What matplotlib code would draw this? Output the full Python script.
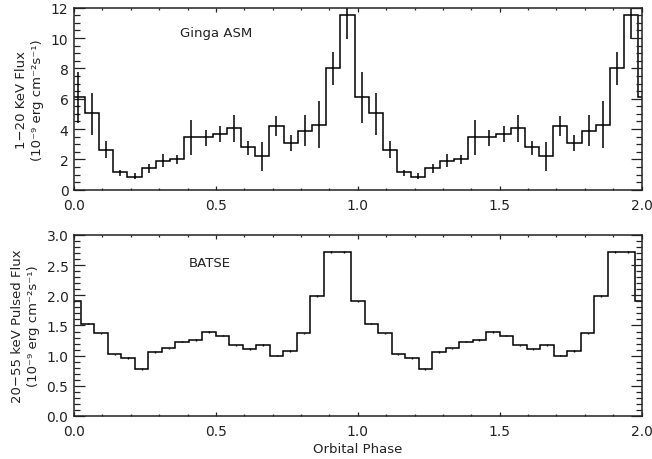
import numpy as np
import matplotlib
matplotlib.use("Agg")
import matplotlib.pyplot as plt
from matplotlib.ticker import MultipleLocator, FormatStrFormatter

# --- Data: folded profiles (one orbital cycle) ---
# Ginga ASM, 1-20 keV flux, 20 phase bins
ginga_flux = [6.13, 5.03, 2.64, 1.14, 0.86, 1.41, 1.91, 2.02, 3.49, 3.45,
              3.67, 4.07, 2.79, 2.20, 4.18, 3.05, 3.89, 4.29, 8.00, 11.52]
ginga_hi = [7.78, 6.35, 3.23, 1.30, 1.10, 1.69, 2.35, 2.29, 4.60, 3.96,
            4.22, 4.92, 3.23, 3.12, 4.84, 3.60, 4.92, 5.87, 9.05, 13.00]
ginga_lo = [4.40, 3.63, 2.07, 0.92, 0.70, 1.10, 1.47, 1.69, 2.29, 2.90,
            3.12, 3.16, 2.29, 1.21, 3.56, 2.57, 2.86, 2.73, 6.90, 9.93]
ginga_phase0 = 0.0135

# BATSE, 20-55 keV pulsed flux, 21 phase bins
batse_flux = [1.90, 1.53, 1.37, 1.02, 0.96, 0.78, 1.06, 1.12, 1.23, 1.26, 1.39,
              1.33, 1.17, 1.11, 1.18, 1.00, 1.08, 1.37, 1.99, 2.72, 2.72]
batse_err = 0.012

phase_ticks = [0.0, 0.5, 1.0, 1.5, 2.0]

TXT = '#222222'


def two_cycles(vals, nbins, phase0):
    """Repeat the folded profile over phase 0-2 (plus one extra bin)."""
    vals = np.asarray(vals, dtype=float)
    n = 2 * nbins + 1
    v = np.concatenate([vals, vals, vals[:1]])[:n]
    centers = phase0 + np.arange(n) / nbins
    edges = np.append(centers - 0.5 / nbins, centers[-1] + 0.5 / nbins)
    return centers, edges, v


def style_axis(ax, ymajor, yminor):
    ax.set_xlim(0, 2)
    ax.set_xticks(phase_ticks)
    ax.xaxis.set_minor_locator(MultipleLocator(0.1))
    ax.xaxis.set_major_formatter(FormatStrFormatter('%.1f'))
    ax.yaxis.set_major_locator(MultipleLocator(ymajor))
    ax.yaxis.set_minor_locator(MultipleLocator(yminor))
    ax.tick_params(which='both', direction='in', top=True, right=True,
                   labelsize=10, colors=TXT, width=0.9)
    ax.tick_params(axis='x', which='major', length=2.6, pad=6)
    ax.tick_params(axis='x', which='minor', length=1.4)
    ax.tick_params(axis='y', which='major', length=8, pad=4)
    ax.tick_params(axis='y', which='minor', length=4)
    for s in ax.spines.values():
        s.set_linewidth(1.1)
        s.set_color(TXT)


fig = plt.figure(figsize=(6.52, 4.6), dpi=100)
ax1 = fig.add_axes([0.1135, 0.5854, 0.8705, 0.3956])
ax2 = fig.add_axes([0.1135, 0.0935, 0.8705, 0.3935])

units = '(10\u207b\u2079 erg cm\u207b\u00b2s\u207b\u00b9)'

# --- Top panel: Ginga ASM ---
nb = len(ginga_flux)
x1, e1, y1 = two_cycles(ginga_flux, nb, ginga_phase0)
_, _, hi1 = two_cycles(ginga_hi, nb, ginga_phase0)
_, _, lo1 = two_cycles(ginga_lo, nb, ginga_phase0)
ax1.stairs(y1, e1, color='black', linewidth=1.1, baseline=None)
ax1.vlines(x1, lo1, hi1, color='black', linewidth=1.1)
ax1.set_ylim(0, 12)
style_axis(ax1, 2, 0.5)
ax1.set_ylabel('1\u221220 KeV Flux\n' + units,
               fontsize=9.5, color=TXT, linespacing=1.25, labelpad=5)
ax1.text(0.5, 10.4, 'Ginga ASM', fontsize=9.5, color=TXT,
         ha='center', va='center')

# --- Bottom panel: BATSE ---
nb = len(batse_flux)
x2, e2, y2 = two_cycles(batse_flux, nb, 0.0)
ax2.stairs(y2, e2, color='black', linewidth=1.1, baseline=None)
ax2.vlines(x2, y2 - batse_err, y2 + batse_err, color='black', linewidth=1.0)
ax2.set_ylim(0, 3.0)
style_axis(ax2, 0.5, 0.1)
ax2.yaxis.set_major_formatter(FormatStrFormatter('%.1f'))
ax2.set_ylabel('20\u221255 keV Pulsed Flux\n' + units,
               fontsize=9.5, color=TXT, linespacing=1.25, labelpad=5)
ax2.set_xlabel('Orbital Phase', fontsize=9.5, color=TXT, labelpad=3)
ax2.text(0.48, 2.55, 'BATSE', fontsize=9.5, color=TXT,
         ha='center', va='center')

fig.savefig('out.png', dpi=100)
